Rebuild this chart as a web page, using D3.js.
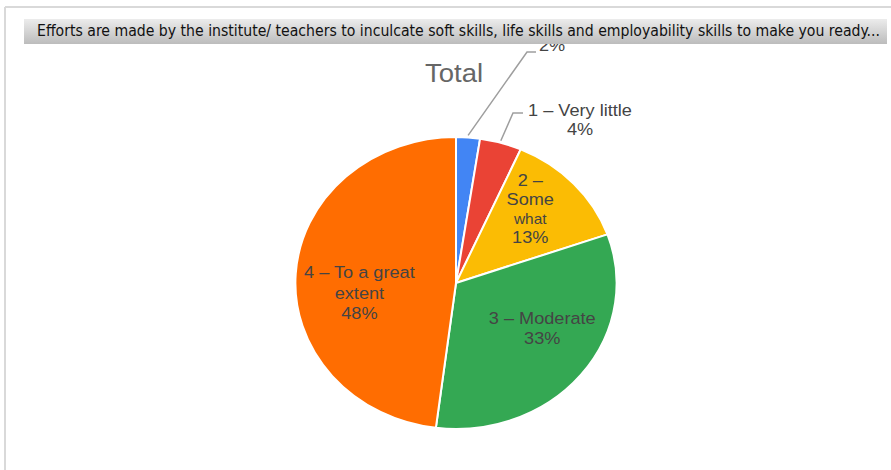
<!DOCTYPE html>
<html>
<head>
<meta charset="utf-8">
<script src="https://cdn.jsdelivr.net/npm/d3@7"></script>
<style>
  body { margin: 0; background: #fff; }
  svg { display: block; }
</style>
</head>
<body>
<div id="chart"></div>
<script>
// data
const categories = ['0', '1 – Very little', '2 – Some what', '3 – Moderate', '4 – To a great extent'];
const shares = [2.4, 4.2, 13.0, 32.4, 48.0];
const percentLabels = ['2%', '4%', '13%', '33%', '48%'];
const labelLines = [[], ['1 – Very little'], ['2 –', 'Some', 'what'], ['3 – Moderate'], ['4 – To a great', 'extent']];
const colors = ['#4285f4', '#ea4335', '#fbbc04', '#34a853', '#ff6d01'];

const width = 891;
const height = 470;
// the whole picture is a little stretched sideways
const cx = 456, cy = 283, radius = 146, stretch = 1.1;
const font = 'Arial, "Liberation Sans", sans-serif';

const svg = d3.select('#chart').append('svg')
  .attr('width', width)
  .attr('height', height);

// outer frame
svg.append('line').attr('x1', 5).attr('x2', width).attr('y1', 7).attr('y2', 7)
  .attr('stroke', '#d9d9d9').attr('stroke-width', 2);
svg.append('line').attr('x1', 5).attr('x2', 5).attr('y1', 7).attr('y2', height)
  .attr('stroke', '#d9d9d9').attr('stroke-width', 2);

const rows = categories.map((c, i) => ({ name: c, value: shares[i], pct: percentLabels[i], lines: labelLines[i], color: colors[i] }));

const pie = d3.pie().sort(null).value((d) => d.value);
const arc = d3.arc().innerRadius(0).outerRadius(radius);
const arcs = pie(rows);

const g = svg.append('g').attr('transform', `translate(${cx},${cy}) scale(${stretch},1)`);

g.selectAll('path').data(arcs).join('path')
  .attr('d', arc)
  .attr('fill', (d) => d.data.color)
  .attr('stroke', '#fff')
  .attr('stroke-width', 2)
  .attr('vector-effect', 'non-scaling-stroke');

// text drawn with the same sideways stretch
function stretchedText(x, y, lines, size, lineH, anchor, fill) {
  const t = svg.append('text')
    .attr('transform', `translate(${x},${y}) scale(${stretch},1)`)
    .attr('text-anchor', anchor)
    .attr('font-family', font)
    .attr('fill', fill);
  lines.forEach((l, k) => {
    t.append('tspan')
      .attr('x', 0)
      .attr('y', k * lineH)
      .attr('font-size', l === 'what' ? size - 2.5 : size)
      .text(l);
  });
  return t;
}

// inside labels for the big slices
const inner = d3.arc().innerRadius(0).outerRadius(radius * 1.38);
const nudge = { 2: [-7, -6, 19], 3: [0, -18, 20.5], 4: [14, 16, 20.5] };
arcs.filter((d) => d.index >= 2).forEach((d) => {
  const [x0, y0] = inner.centroid(d);
  const [dx, dy, lineH] = nudge[d.index];
  const lines = d.data.lines.concat([d.data.pct]);
  const x = cx + x0 * stretch + dx;
  const y = cy + y0 + dy - ((lines.length - 1) / 2) * lineH + 6;
  stretchedText(x, y, lines, 16.5, lineH, 'middle', '#444');
});

// leader lines for the small slices
const edge = d3.arc().innerRadius(radius).outerRadius(radius);
const outerLabels = [
  { i: 0, elbow: [527, 52], end: [536, 52], text: [539, 51, 'start'] },
  { i: 1, elbow: [513, 113], end: [523, 113], text: [580, 116, 'middle'] }
];
outerLabels.forEach((o) => {
  const d = arcs[o.i];
  const [ex, ey] = edge.centroid(d);
  svg.append('polyline')
    .attr('points', [[cx + ex * stretch, cy + ey - 2], o.elbow, o.end].map((p) => p.join(',')).join(' '))
    .attr('fill', 'none')
    .attr('stroke', '#9e9e9e')
    .attr('stroke-width', 1.5);
  const [x, y, anchor] = o.text;
  const lines = d.data.lines.concat([d.data.pct]);
  stretchedText(x, y, lines, 16.5, 19, anchor, '#444');
});

// pie title
stretchedText(425, 82, ['Total'], 25, 0, 'start', '#666');

// header bar on top
const grad = svg.append('defs').append('linearGradient')
  .attr('id', 'bar').attr('x1', 0).attr('x2', 0).attr('y1', 0).attr('y2', 1);
grad.append('stop').attr('offset', '0%').attr('stop-color', '#ececec');
grad.append('stop').attr('offset', '100%').attr('stop-color', '#bcbcbc');

svg.append('rect')
  .attr('x', 24).attr('y', 19).attr('width', 863).attr('height', 25)
  .attr('fill', 'url(#bar)');

svg.append('text')
  .attr('x', 37).attr('y', 36)
  .attr('font-family', 'Tahoma, "DejaVu Sans Condensed", sans-serif')
  .attr('font-size', 15)
  .attr('fill', '#111')
  .attr('textLength', 843)
  .attr('lengthAdjust', 'spacingAndGlyphs')
  .text('Efforts are made by the institute/ teachers to inculcate soft skills, life skills and employability skills to make you ready...');
</script>
</body>
</html>
